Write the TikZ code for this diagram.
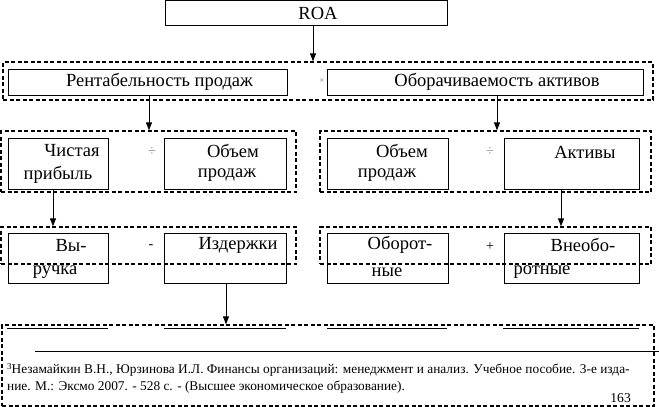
\documentclass[tikz,border=0pt]{standalone}
\usepackage{fontspec}
\setmainfont{Liberation Serif}
\usetikzlibrary{arrows.meta}
\begin{document}
\begin{tikzpicture}[x=1pt,y=-1pt,
  box/.style={draw,line width=0.9pt,rectangle,inner sep=0pt},
  grp/.style={draw,line width=1.3pt,dash pattern=on 4pt off 2.5pt,rectangle,inner sep=0pt},
  txt/.style={inner sep=0pt,font=\fontsize{18.5}{21}\selectfont},
  op/.style={inner sep=0pt,font=\fontsize{14}{16}\selectfont},
  fn/.style={inner sep=0pt,anchor=west,font=\fontsize{13.35}{15}\selectfont},
  arr/.style={line width=0.9pt,-{Triangle[length=8pt,width=6pt]}},
  seg/.style={line width=1pt}]
\useasboundingbox (0,0) rectangle (659,407);
\fill[white] (0,0) rectangle (659,407);
% boxes
\node[box,minimum width=282pt,minimum height=25pt] (roa) at (306,13) {};
\node[grp,minimum width=650pt,minimum height=38pt] (g1) at (328,81) {};
\node[box,minimum width=279pt,minimum height=26pt] (rent) at (147.5,82) {};
\node[box,minimum width=316pt,minimum height=26pt] (obor) at (485,82) {};
\node[grp,minimum width=295pt,minimum height=61pt] (g2L) at (148.5,161.5) {};
\node[grp,minimum width=331pt,minimum height=61pt] (g2R) at (485.5,161.5) {};
\node[box,minimum width=100pt,minimum height=51pt] (chist) at (58,163.5) {};
\node[box,minimum width=122pt,minimum height=51pt] (obL) at (225,163.5) {};
\node[box,minimum width=121pt,minimum height=51pt] (obR) at (387.5,163.5) {};
\node[box,minimum width=135pt,minimum height=51pt] (akt) at (571.5,163.5) {};
\node[box,minimum width=100pt,minimum height=50pt] (vyr) at (58,258) {};
\node[box,minimum width=122pt,minimum height=50pt] (izd) at (225,258) {};
\node[box,minimum width=121pt,minimum height=50pt] (obt) at (387.5,258) {};
\node[box,minimum width=135pt,minimum height=50pt] (vneob) at (571.5,258) {};
\node[grp,minimum width=295pt,minimum height=37pt] (g3L) at (148.5,245.5) {};
\node[grp,minimum width=331pt,minimum height=37pt] (g3R) at (485.5,245.5) {};
\node[grp,minimum width=652pt,minimum height=81pt] (g4) at (328,365.5) {};
% texts
\node[txt] (tRoa) at (318,13) {ROA};
\node[txt] (tRent) at (159.5,82) {Рентабельность продаж};
\node[txt] (tObor) at (497,82) {Оборачиваемость активов};
\node[inner sep=0pt,font=\fontsize{9}{10}\selectfont,text=gray] (tX) at (322,81) {×};
\node[txt] (tCh1) at (72,151) {Чистая};
\node[txt] (tCh2) at (58,175) {прибыль};
\node[txt] (tOb1) at (233,151) {Объем};
\node[txt] (tOb2) at (227,175) {продаж};
\node[op,text=gray] (dv1) at (152,152) {÷};
\node[txt] (tOb3) at (402,151) {Объем};
\node[txt] (tOb4) at (387,175) {продаж};
\node[op,text=gray] (dv2) at (490,152) {÷};
\node[txt] (tAkt) at (585,152) {Активы};
\node[txt] (tV1) at (71,245) {Вы-};
\node[txt] (tV2) at (55,272) {ручка};
\node[op] (mn) at (151,247) {-};
\node[txt] (tIzd) at (238,245) {Издержки};
\node[txt] (tO1) at (400,245) {Оборот-};
\node[txt] (tO2) at (387,272) {ные};
\node[op] (pl) at (490,247) {+};
\node[txt] (tN1) at (583,245) {Внеобо-};
\node[txt] (tN2) at (542,272) {ротные};
% bottom box content
\draw[seg] (7,328) -- (108,328);
\draw[seg] (164,328) -- (286,328);
\draw[seg] (327,328) -- (447,328);
\draw[seg] (503,328) -- (639,328);
\draw[line width=1pt] (35,351) -- (659,351);
\node[fn] (f1) at (7,370) {\raisebox{0.55ex}{\fontsize{9}{10}\selectfont 3}Незамайкин В.Н., Юрзинова И.Л. Финансы организаций: менеджмент и анализ. Учебное пособие. 3-е изда-};
\node[fn] (f2) at (7,387) {ние. М.: Эксмо 2007. - 528 с. - (Высшее экономическое образование).};
\node[inner sep=0pt,anchor=east,font=\fontsize{13.6}{15}\selectfont] (pg) at (631,398) {163};
% connectors
\coordinate (c1) at (313,0);
\coordinate (c2) at (149,0);
\coordinate (c3) at (497,0);
\coordinate (c4) at (53,0);
\coordinate (c5) at (561,0);
\coordinate (c6) at (226,0);
\draw[arr] (roa.south -| c1) -- (g1.north -| c1);
\draw[arr] (rent.south -| c2) -- (g2L.north -| c2);
\draw[arr] (obor.south -| c3) -- (g2R.north -| c3);
\draw[arr] (chist.south -| c4) -- (g3L.north -| c4);
\draw[arr] (akt.south -| c5) -- (g3R.north -| c5);
\draw[arr] (izd.south -| c6) -- (g4.north -| c6);
\end{tikzpicture}
\end{document}
